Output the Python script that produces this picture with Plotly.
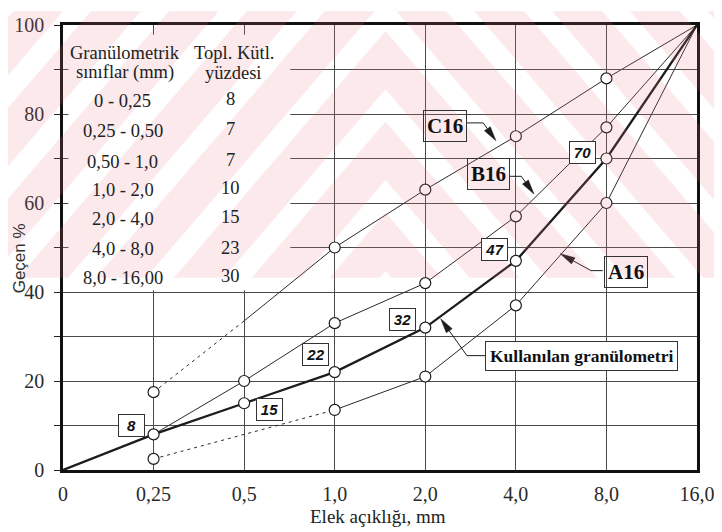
import math
import plotly.graph_objects as go

# ---------------- data ----------------
sieve = ["0", "0,25", "0,5", "1,0", "2,0", "4,0", "8,0", "16,0"]
used_pass = [0, 8, 15, 22, 32, 47, 70, 100]          # Kullanılan granülometri

c16_dash_x = ["0,25", "0,5"]
c16_dash_y = [17.5, 33.5]
c16_x = ["0,5", "1,0", "2,0", "4,0", "8,0", "16,0"]
c16_y = [33.5, 50, 63, 75, 88, 100]

b16_x = ["0,25", "0,5", "1,0", "2,0", "4,0", "8,0", "16,0"]
b16_y = [8, 20, 33, 42, 57, 77, 100]

a16_dash_x = ["0,25", "1,0"]
a16_dash_y = [2.5, 13.5]
a16_x = ["1,0", "2,0", "4,0", "8,0", "16,0"]
a16_y = [13.5, 21, 37, 60, 100]

class_ranges = ["0 - 0,25", "0,25 - 0,50", "0,50 - 1,0", "1,0 - 2,0",
                "2,0 - 4,0", "4,0 - 8,0", "8,0 - 16,00"]
class_mass = [8, 7, 7, 10, 15, 23, 30]

y_ticks = [0, 20, 40, 60, 80, 100]
y_minor = [10, 30, 50, 70, 90]

# ---------------- layout constants ----------------
OFF = 8                      # page body margin in the browser
W, H = 722 - OFF, 532 - OFF
ML, MR, MT, MB = 62 - OFF, 25, 14 - OFF, 62
PW, PH = W - ML - MR, H - MT - MB
pos = {s: i for i, s in enumerate(sieve)}
PXX = PW / (len(sieve) - 1)
PXY = PH / 100.0


def xs(lst):
    return [pos[s] for s in lst]


def xp(px):          # page pixel -> paper
    return (px - OFF - ML) / PW


def yp(py):
    return (H - MB - (py - OFF)) / PH


INK = "#1c1c1c"
THIN = "#2a2a2a"
GRID = "#4a4a4a"
SERIF = "Liberation Serif"
SANS = "Liberation Sans"

fig = go.Figure()

thin_line = dict(color=THIN, width=1)
dash_line = dict(color=THIN, width=1, dash="3px,4px")

fig.add_trace(go.Scatter(x=xs(c16_dash_x), y=c16_dash_y, mode="lines", line=dash_line, hoverinfo="skip"))
fig.add_trace(go.Scatter(x=xs(c16_x), y=c16_y, mode="lines", line=thin_line, hoverinfo="skip"))
fig.add_trace(go.Scatter(x=xs(b16_x), y=b16_y, mode="lines", line=thin_line, hoverinfo="skip"))
fig.add_trace(go.Scatter(x=xs(a16_dash_x), y=a16_dash_y, mode="lines", line=dash_line, hoverinfo="skip"))
fig.add_trace(go.Scatter(x=xs(a16_x), y=a16_y, mode="lines", line=thin_line, hoverinfo="skip"))
fig.add_trace(go.Scatter(x=xs(sieve), y=used_pass, mode="lines",
                         line=dict(color=INK, width=2.3), hoverinfo="skip"))

mk = dict(symbol="circle", size=11, color="white", line=dict(color=INK, width=1.2))
mx = xs(c16_dash_x[:1] + c16_x[1:-1]) + xs(b16_x[1:-1]) + xs(a16_dash_x[:1] + a16_x[:-1]) + xs(sieve[1:-1])
my = c16_dash_y[:1] + c16_y[1:-1] + b16_y[1:-1] + a16_dash_y[:1] + a16_y[:-1] + used_pass[1:-1]
fig.add_trace(go.Scatter(x=mx, y=my, mode="markers", marker=mk, hoverinfo="skip"))

shapes = []
annotations = []

# white area behind the table (grid hidden there)
shapes.append(dict(type="rect", xref="x", yref="y", x0=0.06, x1=2.51, y0=40.4, y1=97.8,
                   fillcolor="white", line=dict(width=0), layer="between"))

# table text
tf = dict(family=SERIF, size=18.5, color="#222")
for txt, px, py in [("Granülometrik", 124, 43), ("sınıflar (mm)", 124, 63),
                    ("Topl. Kütl.", 233, 43), ("yüzdesi", 233, 63)]:
    annotations.append(dict(x=xp(px), y=yp(py), xref="paper", yref="paper", text=txt,
                            showarrow=False, font=tf, xanchor="center", yanchor="middle"))
row_y = [92, 123, 154, 183, 213, 244, 273]
for r, m, py in zip(class_ranges, class_mass, row_y):
    annotations.append(dict(x=xp(122), y=yp(py), xref="paper", yref="paper", text=r,
                            showarrow=False, font=tf, xanchor="center", yanchor="middle"))
    annotations.append(dict(x=xp(230), y=yp(py - 2), xref="paper", yref="paper", text=str(m),
                            showarrow=False, font=tf, xanchor="center", yanchor="middle"))

# boxed values on the used curve
box_pos = [(0.76, 10), (2.28, 13.6), (2.79, 26), (3.75, 33.8), (4.76, 49.5), (5.74, 71.3)]
for v, (bx, by) in zip(used_pass[1:-1], box_pos):
    annotations.append(dict(x=bx, y=by, xref="x", yref="y", text="<b><i>%d</i></b>" % v,
                            showarrow=False, font=dict(family=SANS, size=15, color="#111"),
                            bordercolor="#333", borderwidth=1, borderpad=3, bgcolor="white",
                            width=19, height=15, align="center"))

# curve name labels
lab_font = dict(family=SERIF, size=21, color="#111")
for txt, bx, by in [("C16", 4.22, 77.2), ("B16", 4.70, 66.6), ("A16", 6.22, 44.6)]:
    annotations.append(dict(x=bx, y=by, xref="x", yref="y", text="<b>%s</b>" % txt,
                            showarrow=False, font=lab_font, bordercolor="#333", borderwidth=1,
                            borderpad=3, bgcolor="rgba(255,255,255,0)"))
annotations.append(dict(x=5.73, y=25.6, xref="x", yref="y", text="<b>Kullanılan granülometri</b>",
                        showarrow=False, font=dict(family=SERIF, size=17.5, color="#111"),
                        bordercolor="#333", borderwidth=1, borderpad=4, bgcolor="white"))


def leader(start, elbow, tip, L=15, Wd=3.6):
    shapes.append(dict(type="path", xref="x", yref="y",
                       path="M%f,%f L%f,%f" % (start[0], start[1], elbow[0], elbow[1]),
                       line=dict(color=INK, width=1)))
    dx = (tip[0] - elbow[0]) * PXX
    dy = (tip[1] - elbow[1]) * PXY
    n = math.hypot(dx, dy)
    ux, uy = dx / n, dy / n
    bxp, byp = -ux * L, -uy * L
    pxp, pyp = -uy * Wd, ux * Wd
    base = (tip[0] + bxp / PXX, tip[1] + byp / PXY)
    p1 = (tip[0] + (bxp + pxp) / PXX, tip[1] + (byp + pyp) / PXY)
    p2 = (tip[0] + (bxp - pxp) / PXX, tip[1] + (byp - pyp) / PXY)
    shapes.append(dict(type="path", xref="x", yref="y",
                       path="M%f,%f L%f,%f" % (elbow[0], elbow[1], base[0], base[1]),
                       line=dict(color=INK, width=1)))
    shapes.append(dict(type="path", xref="x", yref="y",
                       path="M%f,%f L%f,%f L%f,%f Z" % (tip[0], tip[1], p1[0], p1[1], p2[0], p2[1]),
                       fillcolor=INK, line=dict(color=INK, width=0.5)))


leader((4.46, 78.0), (4.64, 78.0), (4.78, 74.0))
leader((4.93, 66.0), (5.06, 66.0), (5.20, 62.0))
leader((5.96, 44.8), (5.83, 44.8), (5.49, 48.6))
leader((4.67, 25.7), (4.46, 25.7), (4.17, 34.0))

# axis titles
annotations.append(dict(x=xp(377), y=yp(518), xref="paper", yref="paper", text="Elek açıklığı, mm",
                        showarrow=False, font=dict(family=SERIF, size=19, color="#222"),
                        xanchor="center", yanchor="middle"))
annotations.append(dict(x=xp(18), y=yp(253), xref="paper", yref="paper", text="Geçen %",
                        showarrow=False, textangle=-90, font=dict(family=SANS, size=17, color="#333"),
                        xanchor="center", yanchor="middle"))


# scanned watermark (pink diagonal bands)
def clip(poly, X, keep_left):
    out = []
    n = len(poly)
    for i in range(n):
        P, Q = poly[i], poly[(i + 1) % n]
        inP = P[0] <= X if keep_left else P[0] >= X
        inQ = Q[0] <= X if keep_left else Q[0] >= X
        if inP:
            out.append(P)
        if inP != inQ:
            t = (X - P[0]) / (Q[0] - P[0])
            out.append((X, P[1] + t * (Q[1] - P[1])))
    return out


XC, YB, BW, PER, SH = 385, 273, 50, 78, 229
a = -300
while a < XC + SH + 120:
    left = [(a, 0), (a + BW, 0), (a - SH + BW, YB), (a - SH, YB)]
    for poly in (clip(left, XC, True), clip([(2 * XC - p[0], p[1]) for p in left], XC, False)):
        if len(poly) >= 3:
            path = "M" + " L".join("%f,%f" % (xp(px), yp(py)) for px, py in poly) + " Z"
            shapes.append(dict(type="path", xref="paper", yref="paper", path=path,
                               fillcolor="rgba(232,118,136,0.16)", line=dict(width=0), layer="above"))
    a += PER

fig.update_layout(
    width=W, height=H, margin=dict(l=ML, r=MR, t=MT, b=MB),
    paper_bgcolor="white", plot_bgcolor="white", showlegend=False,
    shapes=shapes, annotations=annotations,
    xaxis=dict(range=[0, len(sieve) - 1], tickvals=list(range(len(sieve))), ticktext=sieve,
               showgrid=True, gridcolor=GRID, gridwidth=1, zeroline=False,
               showline=True, linecolor="#111", linewidth=2.6, mirror=True, ticks="",
               ticklabelstandoff=4, ticklabeloverflow="allow",
               tickfont=dict(family=SERIF, size=20, color="#2a2a2a")),
    yaxis=dict(range=[0, 100], tickvals=y_ticks, ticktext=[str(v) for v in y_ticks],
               showgrid=True, gridcolor=GRID, gridwidth=1, zeroline=False,
               showline=True, linecolor="#111", linewidth=2.6, mirror=True,
               ticks="outside", ticklen=6, tickcolor="#222", ticklabelstandoff=6,
               ticklabeloverflow="allow",
               tickfont=dict(family=SERIF, size=20, color="#2a2a2a"),
               minor=dict(tickvals=y_minor, showgrid=True, gridcolor=GRID, gridwidth=1,
                          ticks="outside", ticklen=6, tickcolor="#222")),
)

fig.write_html("out.html")
